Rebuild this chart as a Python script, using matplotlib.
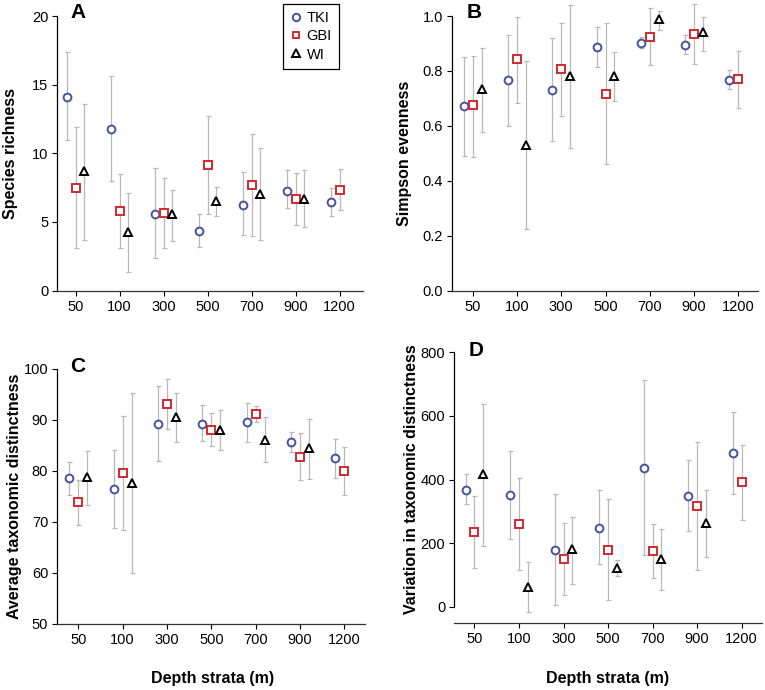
import numpy as np
import matplotlib
matplotlib.use("Agg")
import matplotlib.pyplot as plt
from matplotlib.lines import Line2D

plt.rcParams['font.family'] = ['Liberation Sans', 'DejaVu Sans']

depths = ["50", "100", "300", "500", "700", "900", "1200"]
series = ["TKI", "GBI", "WI"]
nan = np.nan

# Panel A: species richness
a_tki = [14.1, 11.8, 5.6, 4.3, 6.25, 7.27, 6.45]
a_tki_lo = [11.0, 8.0, 2.4, 3.15, 4.05, 6.0, 5.45]
a_tki_hi = [17.4, 15.6, 8.9, 5.55, 8.6, 8.75, 7.5]
a_gbi = [7.47, 5.79, 5.65, 9.15, 7.69, 6.64, 7.35]
a_gbi_lo = [3.1, 3.1, 3.1, 5.6, 3.95, 4.8, 5.85]
a_gbi_hi = [11.9, 8.5, 8.2, 12.75, 11.4, 8.55, 8.85]
a_wi = [8.71, 4.28, 5.55, 6.54, 7.0, 6.7, nan]
a_wi_lo = [3.7, 1.35, 3.6, 5.45, 3.65, 4.6, nan]
a_wi_hi = [13.6, 7.1, 7.35, 7.55, 10.35, 8.75, nan]

# Panel B: Simpson evenness
b_tki = [0.671, 0.767, 0.732, 0.887, 0.903, 0.893, 0.767]
b_tki_lo = [0.49, 0.60, 0.544, 0.816, 0.882, 0.86, 0.733]
b_tki_hi = [0.85, 0.93, 0.92, 0.96, 0.925, 0.93, 0.803]
b_gbi = [0.675, 0.842, 0.807, 0.717, 0.925, 0.934, 0.771]
b_gbi_lo = [0.488, 0.683, 0.636, 0.46, 0.822, 0.825, 0.664]
b_gbi_hi = [0.855, 0.998, 0.975, 0.975, 1.03, 1.045, 0.873]
b_wi = [0.734, 0.532, 0.783, 0.782, 0.988, 0.94, nan]
b_wi_lo = [0.577, 0.223, 0.52, 0.69, 0.948, 0.873, nan]
b_wi_hi = [0.882, 0.835, 1.04, 0.868, 1.02, 0.996, nan]

# Panel C: average taxonomic distinctness
c_tki = [78.5, 76.4, 89.1, 89.2, 89.5, 85.6, 82.4]
c_tki_lo = [75.3, 68.8, 81.9, 85.9, 85.7, 83.6, 78.6]
c_tki_hi = [81.6, 84.1, 96.6, 92.8, 93.2, 87.6, 86.3]
c_gbi = [73.9, 79.5, 93.1, 88.0, 91.2, 82.7, 80.0]
c_gbi_lo = [69.4, 68.4, 88.2, 84.9, 89.6, 78.2, 75.3]
c_gbi_hi = [78.1, 90.7, 97.9, 91.3, 92.6, 87.3, 84.6]
c_wi = [78.7, 77.6, 90.6, 88.0, 86.1, 84.4, nan]
c_wi_lo = [73.3, 60.0, 85.6, 84.0, 81.6, 78.4, nan]
c_wi_hi = [83.8, 95.2, 95.2, 91.9, 90.5, 90.1, nan]

# Panel D: variation in taxonomic distinctness
d_tki = [367, 351, 178, 248, 436, 349, 482]
d_tki_lo = [322, 213, 5, 134, 163, 238, 353]
d_tki_hi = [416, 491, 354, 366, 712, 461, 611]
d_gbi = [234, 261, 150, 178, 174, 317, 392]
d_gbi_lo = [121, 115, 36, 20, 89, 115, 274]
d_gbi_hi = [347, 406, 264, 340, 260, 518, 509]
d_wi = [416, 63, 180, 121, 149, 262, nan]
d_wi_lo = [191, -16, 72, 95, 52, 155, nan]
d_wi_hi = [636, 139, 283, 146, 244, 366, nan]

W, H = 765, 690
fig = plt.figure(figsize=(W / 100, H / 100), dpi=100)

colors = {"TKI": "#4652a3", "GBI": "#d02a2e", "WI": "#000000"}
markers = {"TKI": "o", "GBI": "s", "WI": "^"}
msizes = {"TKI": 5.6, "GBI": 5.2, "WI": 6.0}
offsets = {"TKI": -0.2, "GBI": 0.0, "WI": 0.2}

panels = [
    dict(letter="A", L=57.3, R=363.0, t1=75.7, t7=339.5, ylo=0, yhi=20,
         ypix_lo=290.5, ypix_hi=16.0, bounds=(0, 20), ticks=[0, 5, 10, 15, 20], fmt="{:g}",
         data=[(a_tki, a_tki_lo, a_tki_hi), (a_gbi, a_gbi_lo, a_gbi_hi), (a_wi, a_wi_lo, a_wi_hi)],
         ylabel="Species richness", ylx=11, lett=(78, 13)),
    dict(letter="B", L=452.3, R=758.3, t1=472.7, t7=738.3, ylo=0, yhi=1.0,
         ypix_lo=290.7, ypix_hi=16.0, bounds=(0, 1.0), ticks=[0, 0.2, 0.4, 0.6, 0.8, 1.0], fmt="{:.1f}",
         data=[(b_tki, b_tki_lo, b_tki_hi), (b_gbi, b_gbi_lo, b_gbi_hi), (b_wi, b_wi_lo, b_wi_hi)],
         ylabel="Simpson evenness", ylx=405, lett=(474, 13), ylim=(0, 1.055)),
    dict(letter="C", L=57.3, R=365.0, t1=78.3, t7=344.3, ylo=50, yhi=100,
         ypix_lo=623.5, ypix_hi=368.7, bounds=(50, 100), ticks=[50, 60, 70, 80, 90, 100], fmt="{:g}",
         data=[(c_tki, c_tki_lo, c_tki_hi), (c_gbi, c_gbi_lo, c_gbi_hi), (c_wi, c_wi_lo, c_wi_hi)],
         ylabel="Average taxonomic distinctness", ylx=15, lett=(78, 366)),
    dict(letter="D", L=454.3, R=761.7, t1=474.5, t7=741.5, ylo=0, yhi=800,
         ypix_lo=606.7, ypix_hi=352.3, bounds=(0, 800), ticks=[0, 200, 400, 600, 800], fmt="{:g}",
         data=[(d_tki, d_tki_lo, d_tki_hi), (d_gbi, d_gbi_lo, d_gbi_hi), (d_wi, d_wi_lo, d_wi_hi)],
         ylabel="Variation in taxonomic distinctness", ylx=411.5, lett=(476, 350), ylim=(-50, 800)),
]

x = np.arange(1, len(depths) + 1)
axes = []
for p in panels:
    s = (p["t7"] - p["t1"]) / 6.0
    xl = (1 - (p["t1"] - p["L"]) / s, 7 + (p["R"] - p["t7"]) / s)
    ppu = (p["ypix_lo"] - p["ypix_hi"]) / (p["yhi"] - p["ylo"])
    ylim = p.get("ylim", (p["ylo"], p["yhi"]))
    pix_bot = p["ypix_lo"] + (p["ylo"] - ylim[0]) * ppu
    pix_top = p["ypix_lo"] - (ylim[1] - p["ylo"]) * ppu
    ax = fig.add_axes([p["L"] / W, 1 - pix_bot / H, (p["R"] - p["L"]) / W, (pix_bot - pix_top) / H])
    axes.append(ax)
    for name, (m, lo, hi) in zip(series, p["data"]):
        m = np.array(m, float); lo = np.array(lo, float); hi = np.array(hi, float)
        xx = x + offsets[name]
        ax.errorbar(xx, m, yerr=[m - lo, hi - m], fmt="none", ecolor="#b8b8b8",
                    elinewidth=0.9, capsize=1.8, capthick=0.9, zorder=2, clip_on=False)
        ax.plot(xx, m, linestyle="none", marker=markers[name], ms=msizes[name],
                mfc="white", mec=colors[name], mew=1.4, zorder=3, clip_on=False)
    ax.set_xlim(*xl)
    ax.set_ylim(*ylim)
    ax.set_xticks(x)
    ax.set_xticklabels(depths)
    ax.set_yticks(p["ticks"])
    ax.set_yticklabels([p["fmt"].format(t) for t in p["ticks"]])
    for sp in ["top", "right"]:
        ax.spines[sp].set_visible(False)
    ax.spines["left"].set_bounds(*p["bounds"])
    ax.spines["left"].set_linewidth(0.9)
    ax.spines["bottom"].set_linewidth(0.9)
    ax.spines["bottom"].set_color("#333333")
    ax.tick_params(direction="out", length=3.6, width=0.8, labelsize=10.5, pad=3.0, colors="#000000")
    ax.patch.set_alpha(0)
    fig.text(p["ylx"] / W, 1 - ((p["ypix_lo"] + p["ypix_hi"]) / 2) / H, p["ylabel"],
             rotation=90, ha="center", va="center", fontsize=11.5, fontweight="bold")
    fig.text(p["lett"][0] / W, 1 - p["lett"][1] / H, p["letter"], ha="center", va="center",
             fontsize=15, fontweight="bold")

fig.text(212.5 / W, 1 - 679 / H, "Depth strata (m)", ha="center", va="center",
         fontsize=11.5, fontweight="bold")
fig.text(607.5 / W, 1 - 679 / H, "Depth strata (m)", ha="center", va="center",
         fontsize=11.5, fontweight="bold")

handles = [Line2D([], [], linestyle="none", marker=markers[n], ms=msizes[n] * 0.95,
                  mfc="white", mec=colors[n], mew=1.4) for n in series]
leg = axes[0].legend(handles, series, loc="upper left",
                     bbox_to_anchor=(283.3 / W, 1 - 3.5 / H), bbox_transform=fig.transFigure,
                     borderaxespad=0, fontsize=10.5, handlelength=0.7, handletextpad=0.4,
                     labelspacing=0.3, borderpad=0.5, fancybox=False, framealpha=1,
                     edgecolor="black")
leg.get_frame().set_linewidth(0.9)

fig.savefig("out.png", dpi=100)
